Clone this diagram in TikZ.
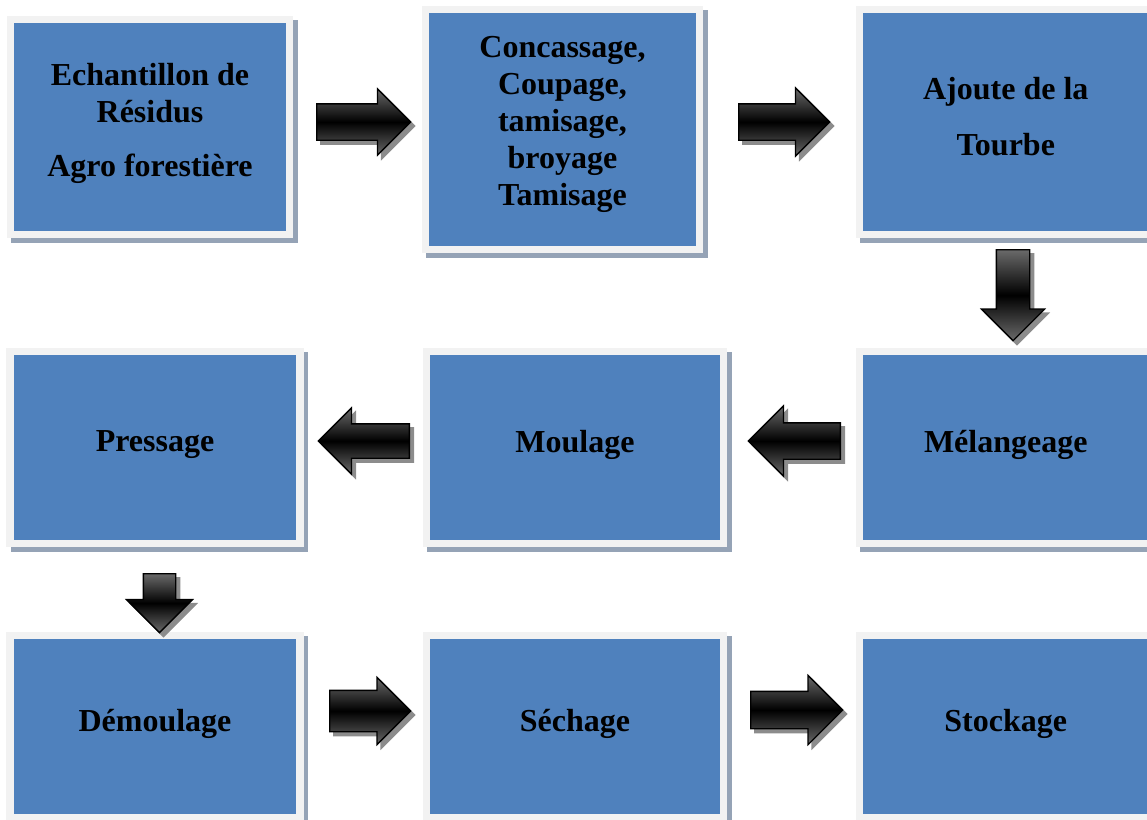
\documentclass[tikz,border=0pt]{standalone}
\usepackage{fontspec}
\setmainfont{Liberation Serif}
\usetikzlibrary{shapes.arrows,shadows}
\definecolor{boxblue}{HTML}{4F81BD}
\definecolor{framegray}{HTML}{F2F2F2}
\definecolor{shadowgray}{HTML}{95A3B6}
\definecolor{arrowgray}{HTML}{6A6A6A}
\definecolor{arrowshadow}{HTML}{8C8C8C}
\newcommand{\dropd}[1]{\rule[-#1]{0pt}{#1}}
\tikzset{
  procbox/.style={draw=framegray, line width=7.5pt, fill=boxblue, inner sep=0pt,
    align=center, font=\fontsize{32}{37}\selectfont\bfseries,
    drop shadow={shadow xshift=4.5pt, shadow yshift=-4.5pt, fill=shadowgray,
      draw=shadowgray, line width=7.5pt, opacity=1}},
  blockarrow/.style={single arrow, draw=black, line width=1.3pt, anchor=tail,
    minimum width=0pt, single arrow head indent=0pt,
    top color=arrowgray, bottom color=arrowgray, middle color=black,
    drop shadow={shadow xshift=4pt, shadow yshift=-4pt, fill=arrowshadow,
      draw=arrowshadow, line width=1.3pt, opacity=1}},
  harrow/.style={blockarrow, inner xsep=0pt, inner ysep=#1},
  varrow/.style={blockarrow, shape border rotate=270, inner ysep=0pt, inner xsep=#1},
}
\begin{document}
\begin{tikzpicture}[x=1pt,y=-1pt]
\useasboundingbox (0,0) rectangle (1147,819);
% row 1
\node[procbox, minimum width=279pt, minimum height=215pt] (b1) at (150,127)
  {Echantillon de\\Résidus\\[17pt]Agro forestière\dropd{15pt}};
\node[procbox, minimum width=274pt, minimum height=240pt] (b2) at (562.5,129.5)
  {Concassage,\\Coupage,\\tamisage,\\broyage\\Tamisage\dropd{17pt}};
\node[procbox, minimum width=292.5pt, minimum height=225pt] (b3) at (1005.75,122)
  {Ajoute de la\\[19pt]Tourbe\dropd{12pt}};
% row 2
\node[procbox, minimum width=290pt, minimum height=192pt] (b4) at (155,447.5) {Pressage\dropd{12pt}};
\node[procbox, minimum width=297pt, minimum height=192pt] (b5) at (575,447.5) {Moulage\dropd{12pt}};
\node[procbox, minimum width=292.5pt, minimum height=192pt] (b6) at (1005.75,447.5) {Mélangeage\dropd{12pt}};
% row 3
\node[procbox, minimum width=290pt, minimum height=182pt] (b7) at (155,726.5) {Démoulage\dropd{13pt}};
\node[procbox, minimum width=297pt, minimum height=182pt] (b8) at (575,726.5) {Séchage\dropd{13pt}};
\node[procbox, minimum width=292.5pt, minimum height=182pt] (b9) at (1005.75,726.5) {Stockage\dropd{13pt}};
% arrows
\node[harrow=17.5pt, single arrow head extend=15pt, minimum height=94pt] (a1) at (316,122) {};
\node[harrow=17.5pt, single arrow head extend=16pt, minimum height=91pt] (a2) at (738,122) {};
\node[varrow=16pt, single arrow head extend=15pt, minimum height=91pt] (a3) at (1013,249) {};
\node[harrow=16.5pt, shape border rotate=180, single arrow head extend=16pt, minimum height=91pt] (a4) at (410,441) {};
\node[harrow=17.5pt, shape border rotate=180, single arrow head extend=17pt, minimum height=92pt] (a5) at (841,441) {};
\node[varrow=15.5pt, single arrow head extend=17pt, minimum height=59pt] (a6) at (159.5,573) {};
\node[harrow=20pt, single arrow head extend=13pt, minimum height=81pt] (a7) at (329,711) {};
\node[harrow=18pt, single arrow head extend=16pt, minimum height=92pt] (a8) at (750,710) {};
\end{tikzpicture}
\end{document}
